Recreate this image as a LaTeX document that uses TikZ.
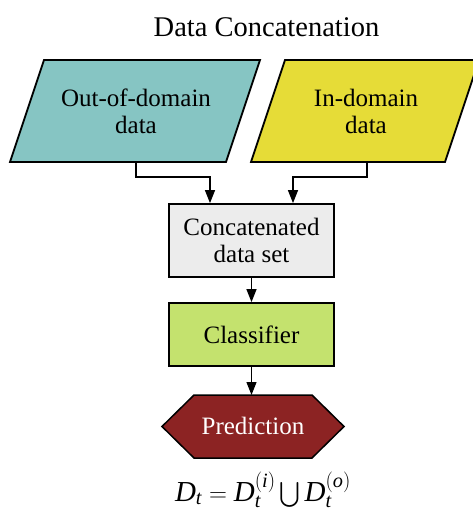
\documentclass[tikz,border=0pt]{standalone}
\usepackage{amsmath}
\usepackage{fontspec}
\setmainfont{Liberation Serif}
\usetikzlibrary{arrows.meta}

\definecolor{outfill}{RGB}{134,197,195}
\definecolor{infill}{RGB}{230,220,55}
\definecolor{setfill}{RGB}{236,236,236}
\definecolor{clsfill}{RGB}{196,226,110}
\definecolor{predfill}{RGB}{140,35,35}

\newcommand{\itl}[1]{\text{\itshape #1}}

\begin{document}
\begin{tikzpicture}[x=1pt,y=-1pt,
  outline/.style={draw=black, line width=1.8pt, line join=miter},
  link/.style={draw=black, line width=1.3pt, -{Triangle[length=13pt,width=10pt]}},
  txt/.style={font=\fontsize{25}{27}\selectfont, align=center, inner sep=0pt},
  procbox/.style={outline, rectangle, minimum width=165pt, txt, inner sep=0pt}]
\useasboundingbox (0,0) rectangle (472,516);

% heading
\node[font=\fontsize{28.5}{32}\selectfont, anchor=base] (title) at (266.5,37) {Data Concatenation};

% the two data sources (parallelograms)
\path[outline, fill=outfill] (44,60) -- (260,60) -- (226,162) -- (10,162) -- cycle;
\path[outline, fill=infill] (285,60) -- (479,60) -- (445,162) -- (251,162) -- cycle;
\node[txt] (outd) at (136,111) {Out-of-domain\\data};
\node[txt] (ind) at (366,111) {In-domain\\data};
\coordinate (outexit) at (136,162);
\coordinate (inexit) at (367,162);

% processing steps
\node[procbox, fill=setfill, minimum height=73pt] (concat) at (251.5,240.5) {Concatenated\\data set};
\node[procbox, fill=clsfill, minimum height=63pt] (cls) at (251.5,334.5) {Classifier};

% result (hexagon)
\path[draw=black, line width=1.5pt, fill=predfill]
  (162,426.5) -- (194,395) -- (312,395) -- (344,426.5) -- (312,458) -- (194,458) -- cycle;
\node[txt, text=white] (pred) at (253,426) {Prediction};
\coordinate (predtop) at (251.5,395);

% connectors
\coordinate (inA) at ([xshift=-41.5pt]concat.north);
\coordinate (inB) at ([xshift=41.5pt]concat.north);
\draw[link] (outexit) -- ++(0,15) -| (inA);
\draw[link] (inexit) -- ++(0,15) -| (inB);
\draw[link] (concat.south) -- (cls.north);
\draw[link] (cls.south) -- (predtop);

% set relation
\node[font=\fontsize{29}{33}\selectfont, anchor=base] (eq) at (263,501)
  {$\itl{D}_{\itl{t}} = \itl{D}_{\itl{t}}^{(\itl{i})} \bigcup \itl{D}_{\itl{t}}^{(\itl{o})}$};
\end{tikzpicture}
\end{document}
